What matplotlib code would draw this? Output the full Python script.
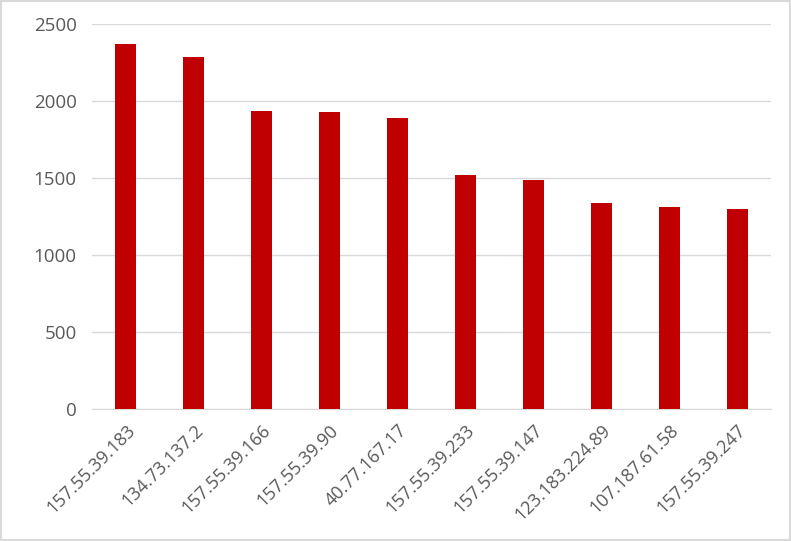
import matplotlib
matplotlib.use('Agg')
import matplotlib.pyplot as plt
from matplotlib.patches import Rectangle

# donnees
ips = ['157.55.39.183', '134.73.137.2', '157.55.39.166', '157.55.39.90', '40.77.167.17',
       '157.55.39.233', '157.55.39.147', '123.183.224.89', '107.187.61.58', '157.55.39.247']
hits = [2372, 2287, 1937, 1930, 1891, 1521, 1488, 1339, 1313, 1300]
yticks = [0, 500, 1000, 1500, 2000, 2500]

RED = '#c00000'; GRID = '#d9d9d9'; TXT = '#595959'
plt.rcParams['font.family'] = ['Open Sans', 'DejaVu Sans']

fig = plt.figure(figsize=(7.91, 5.41), dpi=100)
ax = fig.add_axes([92/791, 1-409/541, (771-92)/791, (409-24.3)/541])
x = range(len(ips))
ax.bar(x, hits, width=0.31, color=RED, zorder=3)
ax.set_xlim(-0.5, len(ips)-0.5); ax.set_ylim(0, 2500)
ax.set_yticks(yticks)
ax.set_yticklabels([str(v) for v in yticks], fontsize=13.5, color=TXT)
ax.set_xticks(list(x))
ax.set_xticklabels(ips, rotation=45, ha='right', rotation_mode='anchor', fontsize=13, color=TXT)
ax.grid(axis='y', color=GRID, linewidth=1, zorder=0)
for s in ['left', 'right', 'top']: ax.spines[s].set_visible(False)
ax.spines['bottom'].set_color(GRID)
ax.tick_params(length=0, pad=11)
ax.tick_params(axis='x', pad=9)
fig.patches.append(Rectangle((0.001, 0.001), 0.998, 0.997, transform=fig.transFigure,
                             fill=False, edgecolor=GRID, linewidth=1.5))
fig.savefig('out.png', dpi=100)
